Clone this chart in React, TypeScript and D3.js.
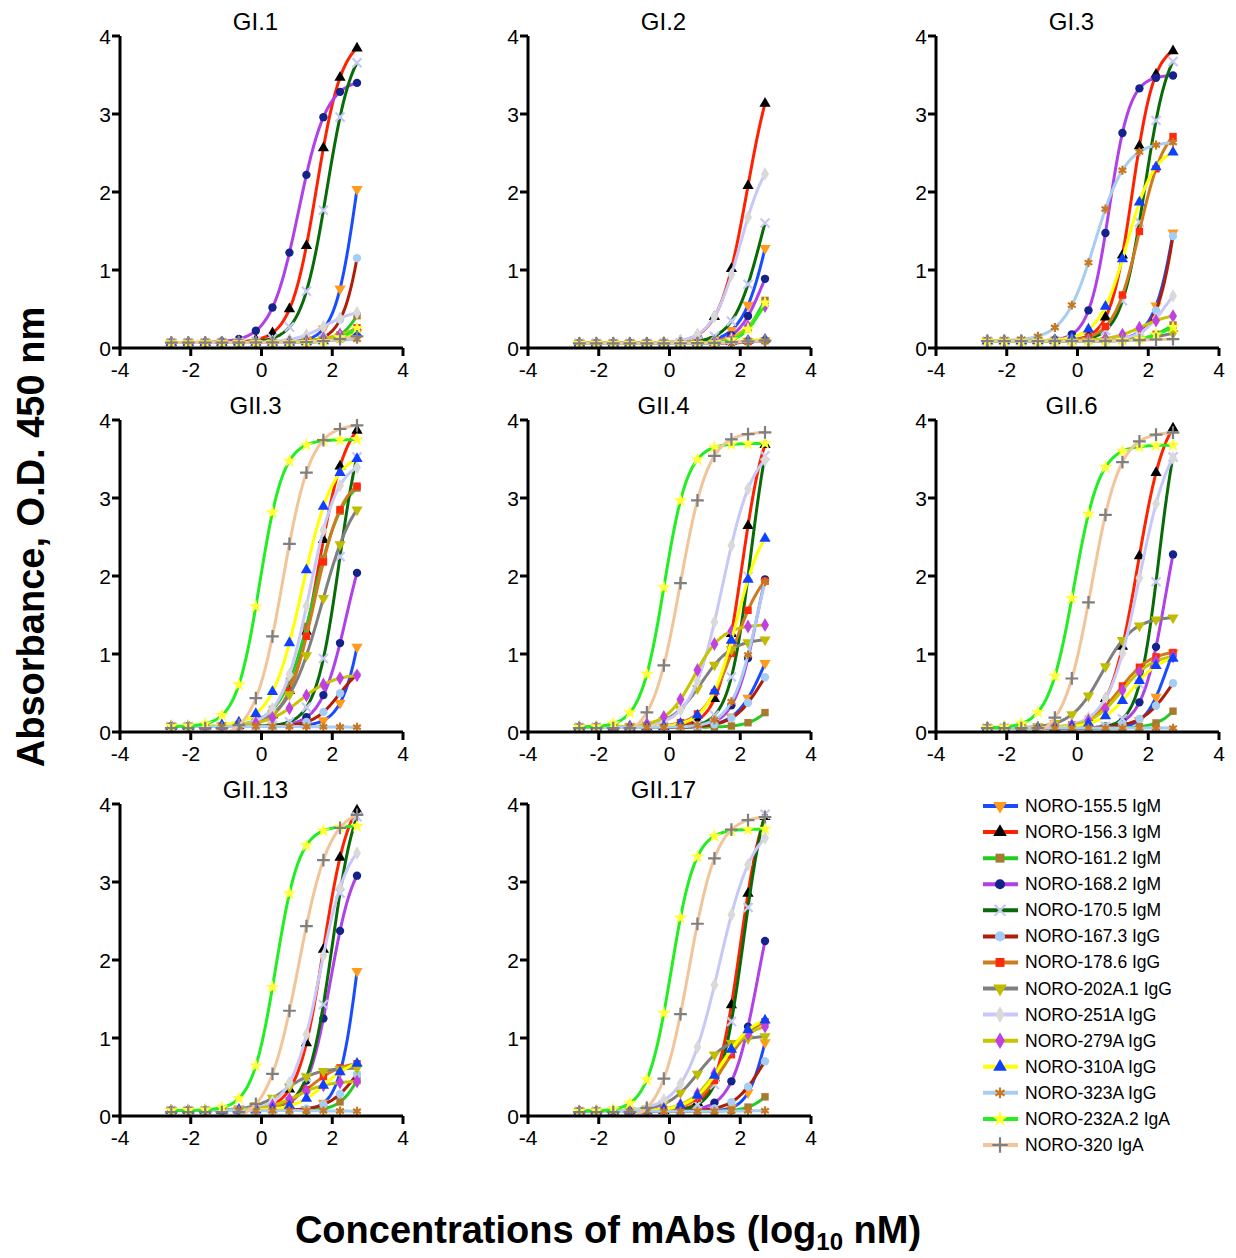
import React from "react";
import * as d3 from "d3";

// panel titles, in reading order
const PANELS = ["GI.1", "GI.2", "GI.3", "GII.3", "GII.4", "GII.6", "GII.13", "GII.17"];

const SERIES = [
  "NORO-155.5 IgM", "NORO-156.3 IgM", "NORO-161.2 IgM", "NORO-168.2 IgM", "NORO-170.5 IgM",
  "NORO-167.3 IgG", "NORO-178.6 IgG", "NORO-202A.1 IgG", "NORO-251A IgG", "NORO-279A IgG",
  "NORO-310A IgG", "NORO-323A IgG", "NORO-232A.2 IgA", "NORO-320 IgA",
];

const LINE_COLORS = [
  "#1a4cff", "#ff2200", "#22cc22", "#b040e8", "#086b08", "#b01e0a", "#d07a1e",
  "#7f7f7f", "#c8c8f8", "#c8c400", "#ffff00", "#a8cdf0", "#22ee22", "#f2c49a",
];
const MARKER_COLORS = [
  "#ff9a1a", "#000000", "#a87a30", "#14238c", "#c8c8f5", "#a4cdf5", "#ff2a0a",
  "#c0bc00", "#d9d9d9", "#c040e0", "#1040ff", "#c87820", "#ffff33", "#7f7f7f",
];
const MARKER_SHAPES = [
  "triDown", "triUp", "square", "circle", "times", "circle", "square",
  "triDown", "diamond", "diamond", "triUp", "asterisk", "star", "plus",
];

// three-fold dilution series, log10 nM
const DILUTIONS = [-2.55, -2.07, -1.59, -1.12, -0.64, -0.16, 0.31, 0.79, 1.27, 1.75, 2.22, 2.7];

const X_TICKS = [-4, -2, 0, 2, 4];
const Y_TICKS = [0, 1, 2, 3, 4];

// baseline OD per panel
const BASELINES = [0.07, 0.06, 0.09, 0.07, 0.06, 0.05, 0.07, 0.06];

// fitted curves: [top, logEC50, hill], one row per series
const FIT_GI1 = [
  [4.0, 2.7, 1.4], [4.0, 1.55, 1.2], [0.9, 2.8, 1.5], [3.45, 1.05, 1.1], [4.0, 1.85, 1.2],
  [4.0, 3.0, 1.4], [0.4, 2.6, 1.2], [0.25, 2.3, 1.0], [0.5, 1.8, 1.0], [0.3, 2.3, 1.0],
  [0.25, 2.5, 1.2], [0.12, 2.0, 1.0], [0.5, 2.8, 1.3], [0.2, 2.5, 1.0],
];
const FIT_GI2 = [
  [3.3, 2.9, 1.1], [4.0, 2.2, 1.1], [1.0, 2.6, 1.5], [1.5, 2.6, 1.3], [2.8, 2.6, 1.1],
  [1.0, 4.0, 1.0], [0.1, 2.0, 1.0], [0.1, 2.0, 1.0], [2.6, 2.0, 1.1], [0.9, 2.6, 1.2],
  [0.12, 2.0, 1.0], [0.1, 2.0, 1.0], [1.1, 2.7, 1.4], [0.1, 2.0, 1.0],
];
const FIT_GI3 = [
  [4.0, 2.9, 1.3], [3.9, 1.55, 1.4], [0.5, 2.7, 1.2], [3.5, 0.9, 1.5], [4.0, 1.9, 1.3],
  [4.0, 2.9, 1.4], [2.9, 1.75, 1.2], [0.25, 2.5, 1.0], [1.0, 2.5, 1.2], [0.45, 1.8, 1.0],
  [2.6, 1.4, 1.1], [2.65, 0.5, 1.0], [0.4, 2.6, 1.2], [0.12, 2.0, 1.0],
];
const FIT_GII3 = [
  [4.0, 3.05, 1.3], [4.1, 1.6, 1.1], [3.3, 1.45, 1.0], [2.9, 2.4, 1.2], [4.3, 2.2, 1.3],
  [0.9, 2.2, 1.2], [3.3, 1.5, 1.1], [3.2, 1.7, 0.9], [3.5, 1.35, 1.1], [0.75, 1.1, 0.9],
  [3.6, 1.15, 1.0], [0.06, 2.0, 1.0], [3.75, -0.05, 1.3], [3.95, 0.6, 1.1],
];
const FIT_GII4 = [
  [1.7, 2.7, 1.1], [4.2, 2.05, 1.3], [1.0, 3.2, 1.2], [3.0, 2.5, 1.3], [4.5, 2.3, 1.4],
  [1.2, 2.6, 1.1], [2.2, 1.85, 1.0], [1.2, 0.9, 1.0], [3.7, 1.5, 1.0], [1.38, 0.7, 1.1],
  [2.8, 1.9, 1.1], [3.0, 2.5, 1.2], [3.7, -0.15, 1.3], [3.85, 0.3, 1.1],
];
const FIT_GII6 = [
  [1.5, 2.5, 1.5], [4.2, 1.7, 1.1], [0.8, 3.0, 1.3], [3.5, 2.5, 1.3], [4.4, 2.3, 1.5],
  [1.2, 2.7, 1.0], [1.05, 1.2, 1.0], [1.48, 0.7, 1.0], [3.9, 1.75, 1.0], [1.0, 1.25, 1.0],
  [1.0, 1.5, 1.0], [0.05, 2.0, 1.0], [3.68, -0.1, 1.2], [3.85, 0.4, 1.1],
];
const FIT_GII13 = [
  [4.0, 2.75, 1.6], [4.2, 1.75, 1.2], [1.0, 2.8, 1.5], [3.4, 1.95, 1.3], [4.3, 2.0, 1.3],
  [1.0, 2.7, 1.1], [0.7, 1.4, 1.0], [0.62, 0.7, 1.0], [3.6, 1.65, 1.1], [0.45, 1.0, 1.0],
  [0.75, 1.8, 1.0], [0.06, 2.0, 1.0], [3.72, 0.4, 1.3], [3.95, 1.05, 1.0],
];
const FIT_GII17 = [
  [2.0, 2.75, 1.6], [4.3, 2.0, 1.3], [0.6, 2.9, 1.4], [3.5, 2.5, 1.2], [4.5, 2.1, 1.3],
  [1.2, 2.6, 1.1], [1.3, 1.6, 1.0], [1.03, 0.8, 1.0], [3.8, 1.4, 0.9], [1.2, 1.4, 1.0],
  [1.3, 1.5, 1.0], [0.07, 2.0, 1.0], [3.68, 0.05, 1.3], [3.85, 0.55, 1.1],
];
const FITS = [FIT_GI1, FIT_GI2, FIT_GI3, FIT_GII3, FIT_GII4, FIT_GII6, FIT_GII13, FIT_GII17];

const FONT = "Arial, 'Liberation Sans', sans-serif";

// panel geometry on the page
const COL_X = [120, 528, 936];
const ROW_Y = [36, 420, 804];
const PW = 283;
const PH = 312;

function fourPL(x: number, bottom: number, fit: number[]) {
  const [top, ec50, hill] = fit;
  return bottom + (top - bottom) / (1 + Math.pow(10, (ec50 - x) * hill));
}

function symbolFor(shape: string) {
  switch (shape) {
    case "triUp": return d3.symbolTriangle;
    case "triDown": return d3.symbolTriangle;
    case "square": return d3.symbolSquare;
    case "circle": return d3.symbolCircle;
    case "times": return d3.symbolTimes;
    case "diamond": return d3.symbolDiamond;
    case "asterisk": return d3.symbolAsterisk;
    case "star": return d3.symbolStar;
    case "plus": return d3.symbolPlus;
    default: return d3.symbolCircle;
  }
}
const STROKED = new Set(["times", "asterisk", "plus"]);

function Marker({ shape, color, x, y, size }: { shape: string; color: string; x: number; y: number; size: number }) {
  const d = d3.symbol().type(symbolFor(shape)).size(size)()!;
  const rot = shape === "triDown" ? 180 : 0;
  const stroked = STROKED.has(shape);
  return (
    <path
      d={d}
      transform={`translate(${x},${y}) rotate(${rot})`}
      fill={stroked ? "none" : color}
      stroke={color}
      strokeWidth={stroked ? 2.2 : 0}
    />
  );
}

function Panel({ idx }: { idx: number }) {
  const col = idx % 3;
  const row = Math.floor(idx / 3);
  const x0 = COL_X[col];
  const y0 = ROW_Y[row];
  const x = d3.scaleLinear().domain([-4, 4]).range([x0, x0 + PW]);
  const y = d3.scaleLinear().domain([0, 4]).range([y0 + PH, y0]);
  const fits = FITS[idx];
  const base = BASELINES[idx];
  const xs = d3.range(DILUTIONS[0], DILUTIONS[DILUTIONS.length - 1] + 0.001, 0.02);
  const clipId = `clip-${idx}`;

  return (
    <g>
      <defs>
        <clipPath id={clipId}>
          <rect x={x0} y={y0 - 10} width={PW} height={PH + 10} />
        </clipPath>
      </defs>
      <text x={x0 + PW / 2 - 6} y={y0 - 6} textAnchor="middle" fontSize={24} fontFamily={FONT}>
        {PANELS[idx]}
      </text>
      <g clipPath={`url(#${clipId})`}>
        {fits.map((fit, s) => {
          const bottom = s === 13 && idx >= 3 ? -0.08 : base;
          const path = d3
            .line<number>()
            .x((v) => x(v))
            .y((v) => y(fourPL(v, bottom, fit)))(xs);
          return (
            <g key={s}>
              <path d={path!} fill="none" stroke={LINE_COLORS[s]} strokeWidth={3} />
              {DILUTIONS.map((v, k) => (
                <Marker
                  key={k}
                  shape={MARKER_SHAPES[s]}
                  color={MARKER_COLORS[s]}
                  x={x(v)}
                  y={y(Math.max(0.05, fourPL(v, bottom, fit)))}
                  size={MARKER_SHAPES[s] === "star" ? 60 : 55}
                />
              ))}
            </g>
          );
        })}
      </g>
      {/* axes */}
      <line x1={x0} x2={x0 + PW} y1={y(0)} y2={y(0)} stroke="#000" strokeWidth={3} />
      <line x1={x0} x2={x0} y1={y(0) + 1.5} y2={y(4)} stroke="#000" strokeWidth={3} />
      {X_TICKS.map((t) => (
        <g key={`x${t}`}>
          <line x1={x(t)} x2={x(t)} y1={y(0)} y2={y(0) + 8} stroke="#000" strokeWidth={3} />
          <text x={x(t)} y={y(0) + 29} textAnchor="middle" fontSize={21} fontFamily={FONT}>
            {t}
          </text>
        </g>
      ))}
      {Y_TICKS.map((t) => (
        <g key={`y${t}`}>
          <line x1={x0 - 8} x2={x0} y1={y(t)} y2={y(t)} stroke="#000" strokeWidth={3} />
          <text x={x0 - 9} y={y(t) + 8} textAnchor="end" fontSize={21} fontFamily={FONT}>
            {t}
          </text>
        </g>
      ))}
    </g>
  );
}

function Legend() {
  const ly = d3.scalePoint<string>().domain(SERIES).range([806, 1145]);
  return (
    <g>
      {SERIES.map((name, s) => {
        const cy = ly(name)!;
        return (
          <g key={name}>
            <line x1={983} x2={1018} y1={cy} y2={cy} stroke={LINE_COLORS[s]} strokeWidth={4} />
            <Marker shape={MARKER_SHAPES[s]} color={MARKER_COLORS[s]} x={1000} y={cy} size={80} />
            <text x={1025} y={cy + 6} fontSize={17.5} fontFamily={FONT}>
              {name}
            </text>
          </g>
        );
      })}
    </g>
  );
}

export default function App() {
  return (
    <svg
      width={1236}
      height={1258}
      style={{ position: "absolute", left: 0, top: 0, background: "#fff" }}
    >
      <rect width={1236} height={1258} fill="#fff" />
      {PANELS.map((_, i) => (
        <Panel key={i} idx={i} />
      ))}
      <Legend />
      <text
        transform="translate(44,537) rotate(-90)"
        textAnchor="middle"
        fontSize={38}
        fontWeight="bold"
        fontFamily={FONT}
      >
        Absorbance, O.D. 450 nm
      </text>
      <text x={608} y={1243} textAnchor="middle" fontSize={38} fontWeight="bold" fontFamily={FONT}>
        Concentrations of mAbs (log
        <tspan fontSize={24} dy={7}>10</tspan>
        <tspan dy={-7}> nM)</tspan>
      </text>
    </svg>
  );
}
